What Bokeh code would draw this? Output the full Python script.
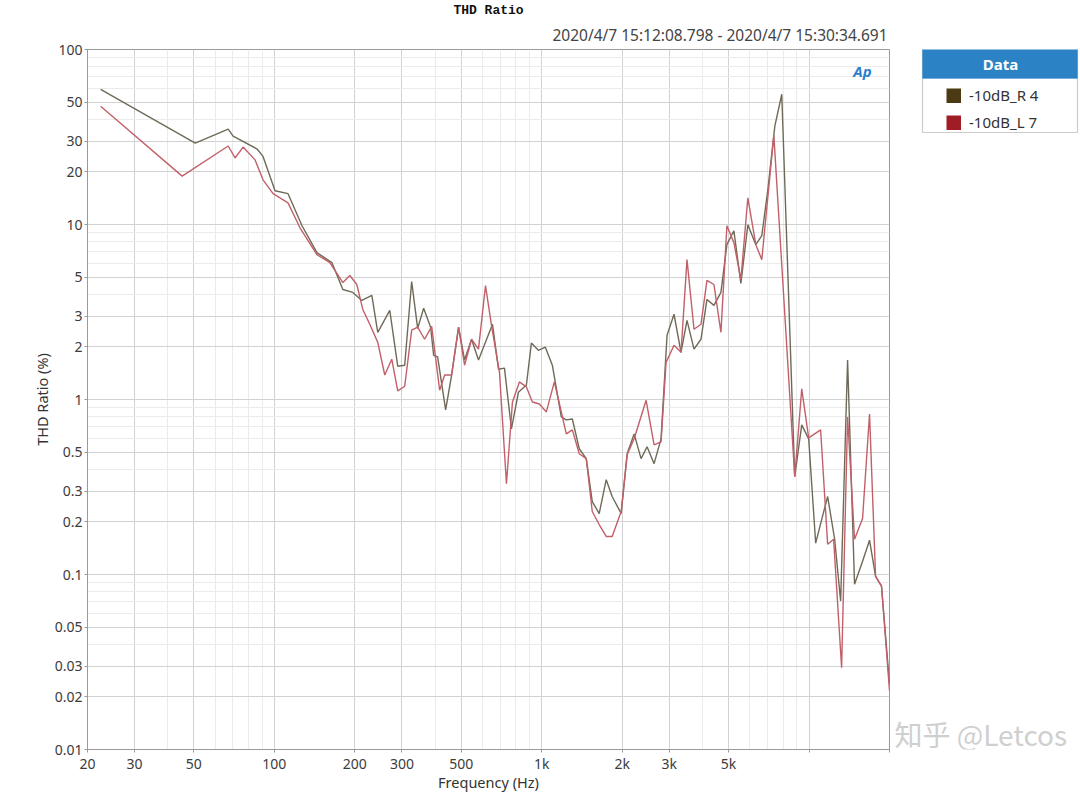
from bokeh.plotting import figure
from bokeh.layouts import row
from bokeh.models import (FixedTicker, CustomJSTickFormatter, Label, Legend,
                          LegendItem, BoxAnnotation, Title)
from bokeh.embed import file_html
from bokeh.resources import INLINE

# ---------------- data ----------------
freq_R = [22.4, 50.6, 67.2, 70.1, 86.2, 90.7, 100.6, 112.5, 126.9, 144.3, 164.1, 180.4,
          196.6, 212.4, 231.5, 243.7, 270.2, 289.4, 307.3, 326.3, 343.6, 361.8, 384.2,
          394.3, 408.1, 437.2, 460.3, 488.8, 514.6, 546.5, 580.3, 654.6, 689.2, 725.6,
          770.6, 818.4, 876.6, 915.1, 971.9, 1032, 1096, 1184, 1236, 1302, 1382, 1468,
          1546, 1641, 1743, 1835, 1983, 2088, 2217, 2354, 2479, 2633, 2796, 2944, 3126,
          3320, 3496, 3713, 3943, 4152, 4409, 4682, 4930, 5235, 5560, 5904, 6324, 6658,
          7013, 7449, 7908, 8842, 9391, 9971, 10590, 11150, 11740, 12470, 13130, 13940,
          14800, 15860, 16840, 17740, 18670, 20000]
thd_R = [59.2, 29.2, 35.1, 32.0, 27.0, 24.5, 15.6, 15.0, 9.84, 6.91, 6.06, 4.25,
         4.09, 3.68, 3.93, 2.42, 3.23, 1.55, 1.57, 4.72, 2.55, 3.32, 2.59,
         1.79, 1.75, 0.872, 1.38, 2.59, 1.68, 2.21, 1.68, 2.69, 1.49, 1.51,
         0.68, 1.10, 1.21, 2.10, 1.91, 1.99, 1.57, 0.795, 0.765, 0.774, 0.523, 0.459,
         0.261, 0.223, 0.348, 0.279, 0.223, 0.49, 0.636, 0.459, 0.537, 0.43, 0.596, 2.33, 3.07,
         1.86, 2.83, 1.94, 2.21, 3.73, 3.45, 4.09, 7.67, 9.21, 4.6, 9.97, 7.67, 8.63,
         15.8, 36.5, 55.5, 0.362, 0.716, 0.596, 0.151, 0.206, 0.279, 0.159, 0.0705, 1.68,
         0.088, 0.119, 0.157, 0.0977, 0.0857, 0.0237]

freq_L = [22.4, 45.2, 67.2, 71.3, 76.4, 84.7, 90.7, 98.9, 112.5, 124.7, 144.3, 161.3,
          180.4, 191.6, 203.4, 214.2, 227.5, 243.7, 258.8, 274.9, 289.4, 307.3, 326.3,
          343.6, 364.9, 387.6, 415.2, 433.5, 460.3, 488.8, 514.6, 546.5, 580.3, 616.3,
          649.0, 695.1, 738.2, 777.3, 825.4, 876.6, 923.0, 980.2, 1041, 1115, 1184, 1236,
          1302, 1382, 1468, 1546, 1641, 1743, 1835, 1983, 2088, 2217, 2458, 2633, 2796,
          2919, 3126, 3320, 3496, 3713, 3943, 4152, 4409, 4682, 4930, 5235, 5560, 5904,
          6324, 6658, 7385, 8842, 9391, 9971, 11050, 11740, 12360, 13240, 13940, 14800,
          15860, 16840, 17740, 18670, 20000]
thd_L = [47.4, 18.9, 28.1, 24.0, 27.7, 23.4, 18.0, 15.0, 13.3, 9.58, 6.73, 6.06,
         4.66, 5.11, 4.54, 3.27, 2.69, 2.12, 1.38, 1.70, 1.12, 1.19, 2.49,
         2.59, 2.21, 2.62, 1.13, 1.38, 1.38, 2.59, 1.57, 2.21, 1.94, 4.48,
         2.65, 1.43, 0.33, 0.968, 1.26, 1.18, 0.968, 0.943, 0.849, 1.26, 0.849, 0.636,
         0.671, 0.49, 0.459, 0.229, 0.193, 0.165, 0.165, 0.229, 0.483, 0.596, 0.99, 0.551, 0.573,
         1.63, 2.04, 1.86, 6.3, 2.52, 2.69, 4.79, 4.54, 2.42, 9.84, 7.88, 4.85, 14.2,
         7.67, 6.3, 32.4, 0.362, 1.15, 0.604, 0.671, 0.149, 0.159, 0.0293, 0.795, 0.159,
         0.209, 0.827, 0.0977, 0.0857, 0.0217]

series_names = ["-10dB_R 4", "-10dB_L 7"]
line_colors = ["#6f6a58", "#c2606a"]
swatch_colors = ["#4b3a12", "#a01d26"]

x_major = [20, 30, 50, 100, 200, 300, 500, 1000, 2000, 3000, 5000, 10000, 20000]
x_minor = [40, 60, 70, 80, 90, 400, 600, 700, 800, 900,
           4000, 6000, 7000, 8000, 9000]
y_major = [0.01, 0.02, 0.03, 0.05, 0.1, 0.2, 0.3, 0.5, 1, 2, 3, 5, 10, 20, 30, 50, 100]
y_minor = [0.04, 0.06, 0.07, 0.08, 0.09, 0.4, 0.6, 0.7, 0.8, 0.9,
           4, 6, 7, 8, 9, 40, 60, 70, 80, 90]

FB = 748  # expected page y of the plot frame bottom (used for panel-relative placement)

# ---------------- main chart ----------------
p = figure(width=891, height=794, x_axis_type="log", y_axis_type="log",
           x_range=(20, 20000), y_range=(0.01, 100),
           output_backend="svg", toolbar_location=None,
           min_border_left=87, min_border_right=2,
           min_border_top=46, min_border_bottom=45)
p.outline_line_color = "#9a9a9a"

p.add_layout(Title(text="2020/4/7 15:12:08.798 - 2020/4/7 15:30:34.691", align="right",
                   text_font="Noto Sans", text_font_size="15.5px", text_font_style="normal",
                   text_color="#444444", standoff=8, offset=2), "above")
p.add_layout(Title(text="THD Ratio", align="center",
                   text_font="Liberation Mono", text_font_size="13px", text_font_style="bold",
                   text_color="#111111", standoff=0), "above")

p.xaxis.ticker = FixedTicker(ticks=x_major, minor_ticks=x_minor)
p.yaxis.ticker = FixedTicker(ticks=y_major, minor_ticks=y_minor)
p.xaxis.formatter = CustomJSTickFormatter(
    code="if (tick >= 10000) { return ''; } if (tick >= 1000) { return (tick/1000) + 'k'; } return tick.toString();")
p.yaxis.formatter = CustomJSTickFormatter(code="return tick.toString();")

for ax in (p.xaxis, p.yaxis):
    ax.axis_line_color = "#9a9a9a"
    ax.major_tick_line_color = "#9a9a9a"
    ax.major_tick_out = 3
    ax.major_tick_in = 0
    ax.minor_tick_out = 0
    ax.minor_tick_in = 0
    ax.major_label_text_font = "Noto Sans"
    ax.major_label_text_font_size = "14px"
    ax.major_label_text_color = "#3c3c3c"
    ax.axis_label_text_font = "Noto Sans"
    ax.axis_label_text_font_size = "14.5px"
    ax.axis_label_text_font_style = "normal"
    ax.axis_label_text_color = "#333333"

p.xaxis.major_label_standoff = 1
p.xaxis.axis_label_standoff = -4
p.yaxis.major_label_standoff = 2
p.yaxis.axis_label_standoff = 0

p.xaxis.axis_label = "Frequency (Hz)"
p.yaxis.axis_label = "THD Ratio (%)"

for g in (p.xgrid, p.ygrid):
    g.grid_line_color = "#d2d2d2"
    g.grid_line_width = 1
    g.minor_grid_line_color = "#ebebeb"
    g.minor_grid_line_width = 1

p.line(freq_R, thd_R, line_color=line_colors[0], line_width=1.4)
p.line(freq_L, thd_L, line_color=line_colors[1], line_width=1.4)

# AP logo text
p.add_layout(Label(x=775, y=FB - 69, x_units="screen", y_units="screen", text="Ap",
                   text_align="center", text_baseline="middle", text_color="#2a7fd0",
                   text_font="Noto Sans", text_font_style="bold italic", text_font_size="15px"))

# ---------------- legend panel (its frame is aligned with the chart frame) ----------------
lf = figure(width=189, height=794, x_range=(0, 1), y_range=(0, 1),
            output_backend="svg", toolbar_location=None,
            x_axis_location=None, y_axis_location=None, min_border=0)
lf.outline_line_color = None
lf.grid.visible = False

# swatch renderers: the series drawn as wide strokes, all outside this panel's view
sw_R = lf.line(freq_R, thd_R, line_color=swatch_colors[0], line_width=15)
sw_L = lf.line(freq_L, thd_L, line_color=swatch_colors[1], line_width=15)

lf.add_layout(BoxAnnotation(left=31, right=186, bottom=FB - 131, top=FB - 47,
                            left_units="screen", right_units="screen",
                            top_units="screen", bottom_units="screen",
                            fill_color="white", fill_alpha=1.0,
                            line_color="#555555", line_width=1.2, level="underlay"))
lf.add_layout(BoxAnnotation(left=31, right=186, bottom=FB - 77, top=FB - 47,
                            left_units="screen", right_units="screen",
                            top_units="screen", bottom_units="screen",
                            fill_color="#2b83c6", fill_alpha=1.0,
                            line_color="#2b83c6", line_width=1, level="annotation"))

legend = Legend(items=[LegendItem(label=series_names[0], renderers=[sw_R]),
                       LegendItem(label=series_names[1], renderers=[sw_L])],
                location=(55, FB - 131), orientation="vertical",
                background_fill_alpha=0, border_line_color=None,
                padding=4, spacing=7, margin=0,
                glyph_width=15, glyph_height=15, label_standoff=8,
                label_height=15,
                label_text_font="Noto Sans", label_text_font_size="15px",
                label_text_color="#333333")
lf.add_layout(legend)

lf.add_layout(Label(x=109, y=FB - 62, x_units="screen", y_units="screen", text="Data",
                    text_align="center", text_baseline="middle", text_color="white",
                    text_font="Noto Sans", text_font_style="bold", text_font_size="15px",
                    level="overlay"))

# watermark
lf.add_layout(Label(x=3, y=16, x_units="screen", y_units="screen", text="知乎 @Letcos",
                    text_align="left", text_baseline="middle", text_color="#cfcfcf",
                    text_font="Noto Sans CJK SC", text_font_size="28px", level="overlay"))

layout = row(p, lf, spacing=0)
open("out.html", "w").write(file_html(layout, INLINE))
